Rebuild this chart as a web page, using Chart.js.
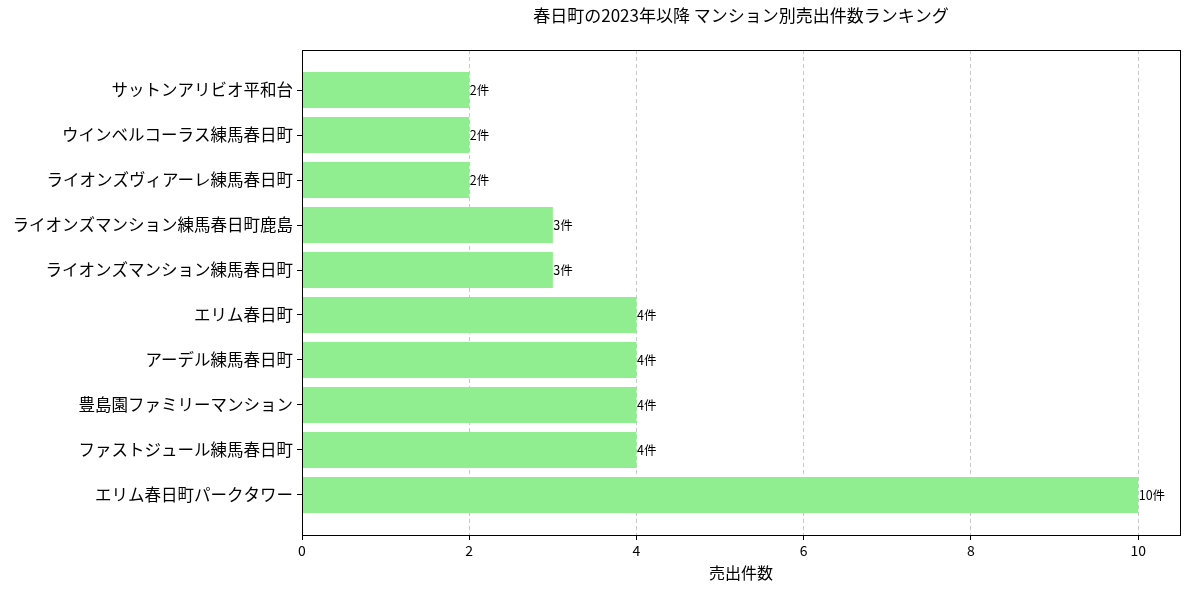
<!DOCTYPE html>
<html><head><meta charset="utf-8">
<script src="https://cdn.jsdelivr.net/npm/chart.js@4"></script>
<style>html,body{margin:0;padding:0;background:#fff;}#wrap{width:1189px;height:589px;}</style>
</head><body><div id="wrap"><canvas id="c"></canvas></div>
<script>
const categories = ["サットンアリビオ平和台","ウインベルコーラス練馬春日町","ライオンズヴィアーレ練馬春日町","ライオンズマンション練馬春日町鹿島","ライオンズマンション練馬春日町","エリム春日町","アーデル練馬春日町","豊島園ファミリーマンション","ファストジュール練馬春日町","エリム春日町パークタワー"];
const counts = [2,2,2,3,3,4,4,4,4,10];
const xTicks = [0,2,4,6,8,10];
const titleText = "春日町の2023年以降 マンション別売出件数ランキング";
const xTitle = "売出件数";
const unit = "件";

const FONT = "'Noto Sans CJK JP', 'DejaVu Sans', sans-serif";
Chart.defaults.font.family = FONT;
Chart.defaults.color = '#000';

const framePlugin = {
  id: 'frame',
  afterDatasetsDraw(chart) {
    const {ctx, chartArea: a} = chart;
    const meta = chart.getDatasetMeta(0);
    ctx.save();
    ctx.font = "12.5px " + FONT;
    ctx.fillStyle = '#000';
    ctx.textBaseline = 'middle';
    ctx.textAlign = 'left';
    meta.data.forEach((el, i) => {
      ctx.fillText(counts[i] + unit, el.x + 0.5, el.y);
    });
    ctx.strokeStyle = '#000';
    ctx.lineWidth = 1;
    ctx.strokeRect(Math.round(a.left) + 0.5, Math.round(a.top) + 0.5, Math.round(a.right - a.left), Math.round(a.bottom - a.top));
    // axes title centred over the plot area
    ctx.font = "17px " + FONT;
    ctx.textAlign = 'center';
    ctx.textBaseline = 'middle';
    ctx.fillText(titleText, (a.left + a.right) / 2, 16);
    ctx.restore();
  }
};

new Chart(document.getElementById('c'), {
  type: 'bar',
  data: {
    datasets: [{
      data: categories.map((c, i) => ({x: counts[i], y: i})),
      backgroundColor: '#90EE90',
      borderWidth: 0,
      barPercentage: 0.8,
      categoryPercentage: 1.0
    }]
  },
  options: {
    indexAxis: 'y',
    responsive: true,
    maintainAspectRatio: false,
    animation: false,
    layout: {padding: {left: 0, right: 9, top: 50, bottom: 0}},
    plugins: {
      legend: {display: false},
      tooltip: {enabled: false},
      title: {display: false}
    },
    scales: {
      x: {
        type: 'linear',
        min: 0,
        max: 10.5,
        afterBuildTicks: s => { s.ticks = xTicks.map(v => ({value: v})); },
        afterFit: s => { s.height = 54; },
        ticks: {font: {size: 14}, color: '#000', padding: 2, maxRotation: 0},
        grid: {color: '#c8c8c8', lineWidth: 1, tickColor: '#000', tickLength: 5, tickBorderDash: []},
        border: {display: true, color: '#000', dash: [4, 3]},
        title: {display: true, text: xTitle, font: {size: 16}, color: '#000', padding: {top: 2, bottom: 6}}
      },
      y: {
        type: 'linear',
        reverse: true,
        offset: false,
        min: -0.89,
        max: 9.89,
        afterBuildTicks: s => { s.ticks = categories.map((c, i) => ({value: i})); },
        afterFit: s => { s.width = 302; },
        ticks: {font: {size: 16.5}, color: '#000', padding: 4, autoSkip: false,
          callback: v => categories[v]},
        grid: {offset: false, drawOnChartArea: false, tickColor: '#000', tickLength: 5},
        border: {display: true, color: '#000'}
      }
    }
  },
  plugins: [framePlugin]
});
</script>
</body></html>
